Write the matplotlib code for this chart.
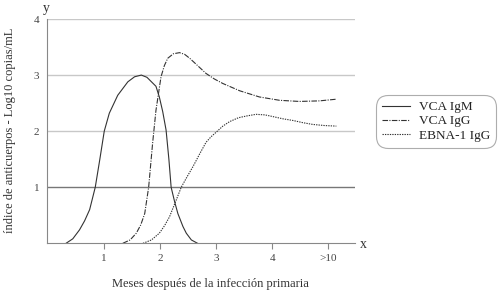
import matplotlib
matplotlib.use("Agg")
import matplotlib.pyplot as plt

plt.rcParams['font.family'] = ['Liberation Serif', 'DejaVu Serif']

# datos (meses en escala del eje, indice log10)
igm_x = [0.33, 0.45, 0.57, 0.66, 0.75, 0.85, 0.93, 1.01, 1.10, 1.25, 1.43, 1.55, 1.67, 1.77, 1.85, 1.93,
         1.99, 2.05, 2.11, 2.16, 2.20, 2.26, 2.32, 2.41, 2.47, 2.56, 2.67]
igm_y = [0.00, 0.08, 0.24, 0.40, 0.60, 1.00, 1.49, 2.00, 2.32, 2.64, 2.88, 2.97, 3.00, 2.96, 2.88, 2.80,
         2.61, 2.35, 2.02, 1.50, 1.00, 0.75, 0.53, 0.30, 0.18, 0.06, 0.00]

igg_x = [1.34, 1.47, 1.58, 1.66, 1.73, 1.80, 1.87, 1.93, 2.02, 2.08, 2.14, 2.24, 2.35, 2.44, 2.53, 2.67,
         2.82, 2.97, 3.12, 3.42, 3.77, 4.13, 4.48, 4.84, 5.14]
igg_y = [0.00, 0.06, 0.18, 0.33, 0.53, 1.00, 1.78, 2.37, 2.97, 3.17, 3.30, 3.38, 3.40, 3.37, 3.30, 3.17,
         3.03, 2.93, 2.85, 2.72, 2.61, 2.55, 2.53, 2.54, 2.57]

ebna_x = [1.70, 1.85, 1.99, 2.08, 2.17, 2.29, 2.38, 2.48, 2.59, 2.70, 2.82, 2.91, 3.00, 3.12, 3.24, 3.40,
          3.54, 3.71, 3.87, 4.01, 4.19, 4.37, 4.55, 4.72, 4.93, 5.14]
ebna_y = [0.00, 0.06, 0.18, 0.31, 0.47, 0.77, 1.00, 1.18, 1.37, 1.58, 1.80, 1.90, 1.98, 2.09, 2.17, 2.24,
          2.27, 2.30, 2.29, 2.26, 2.22, 2.19, 2.15, 2.12, 2.10, 2.09]

xticks = [1, 2, 3, 4, 5]
xtick_labels = ['1', '2', '3', '4', '>10']
yticks = [1, 2, 3, 4]

fig = plt.figure(figsize=(5.02, 2.91), dpi=100)
ax = fig.add_axes([0.0946, 0.1639, 0.6135, 0.7708])

# lineas de referencia
for yv in [2, 3, 4]:
    ax.axhline(yv, color='#c8c8c8', lw=1.0, zorder=1)
ax.axhline(1, color='#777777', lw=1.0, zorder=1)

ln_col = '#333333'
ax.plot(igm_x, igm_y, color=ln_col, lw=0.8, label='VCA IgM')
ax.plot(igg_x, igg_y, color=ln_col, lw=0.8, dashes=(5, 1.2, 1, 1.2), label='VCA IgG')
ax.plot(ebna_x, ebna_y, color=ln_col, lw=0.8, dashes=(1.2, 1.0), label='EBNA-1 IgG')

ax.set_xlim(0, 5.48)
ax.set_ylim(0, 4)
ax.set_xticks(xticks)
ax.set_xticklabels(xtick_labels)
ax.set_yticks(yticks)
ax.tick_params(axis='x', length=4, color='#888888', labelsize=8, labelcolor='#444444', pad=4)
ax.tick_params(axis='y', length=0, labelsize=8, labelcolor='#444444', pad=6)

for s in ['top', 'right']:
    ax.spines[s].set_visible(False)
ax.spines['left'].set_color('#888888')
ax.spines['bottom'].set_color('#888888')

ax.set_xlabel('Meses después de la infección primaria', fontsize=9, color='#333333')
ax.xaxis.set_label_coords(0.528, -0.155)
ax.set_ylabel('índice de anticuerpos - Log10 copias/mL', fontsize=9, color='#333333')
ax.yaxis.set_label_coords(-0.102, 0.505)

fig.text(0.092, 0.97, 'y', fontsize=10, color='#333333', ha='center', va='center')
fig.text(0.723, 0.16, 'x', fontsize=10, color='#333333', ha='center', va='center')

leg = fig.legend(loc='center', bbox_to_anchor=(0.869, 0.583), fontsize=9.5, handlelength=2.1,
                 frameon=True, fancybox=True, edgecolor='#999999', labelspacing=0.15,
                 borderpad=0.45, handletextpad=0.7, borderaxespad=0)
leg.get_frame().set_linewidth(0.8)
leg.get_frame().set_boxstyle('round,pad=0,rounding_size=0.9')
for t in leg.get_texts():
    t.set_color('#222222')

fig.savefig('out.png', dpi=100)
